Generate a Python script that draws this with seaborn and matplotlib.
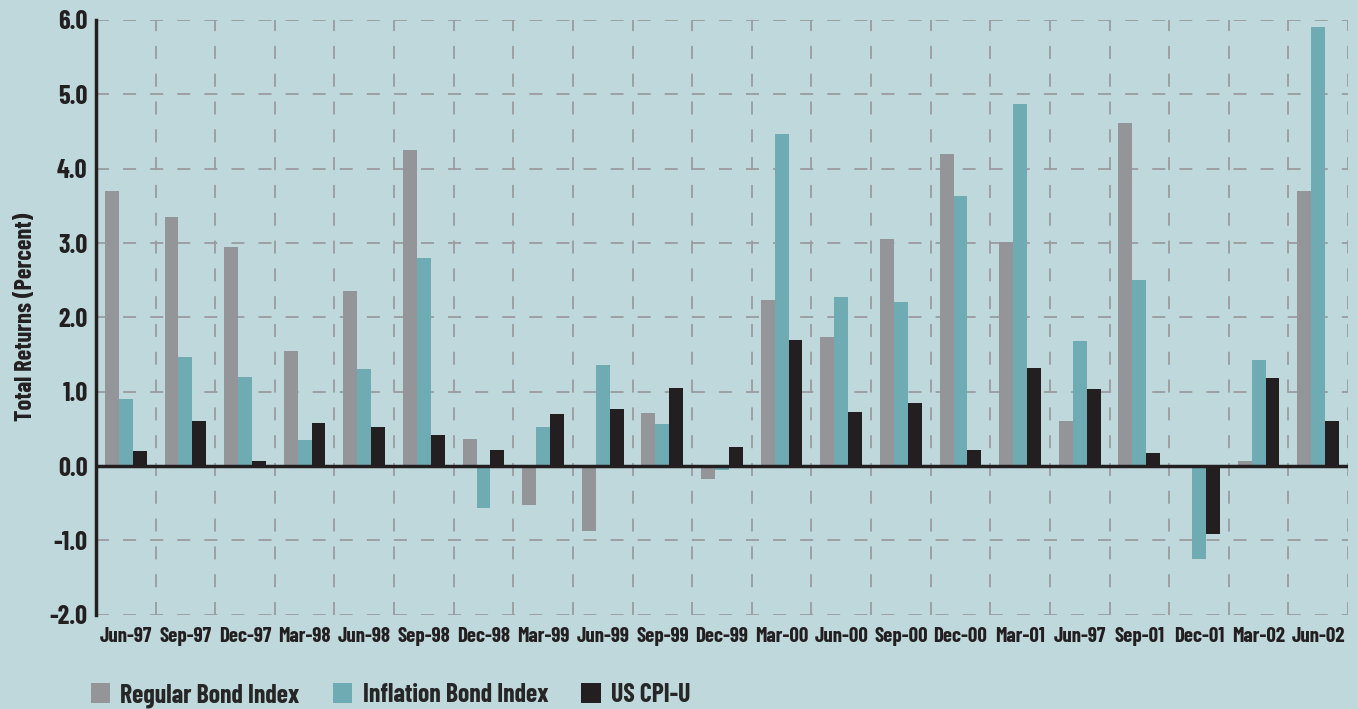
import matplotlib
matplotlib.use("Agg")
import matplotlib.pyplot as plt
import seaborn as sns
import pandas as pd
import numpy as np
from matplotlib.patches import Patch

periods = ["Jun-97", "Sep-97", "Dec-97", "Mar-98", "Jun-98", "Sep-98", "Dec-98",
           "Mar-99", "Jun-99", "Sep-99", "Dec-99", "Mar-00", "Jun-00", "Sep-00",
           "Dec-00", "Mar-01", "Jun-97", "Sep-01", "Dec-01", "Mar-02", "Jun-02"]
regular_bond = [3.70, 3.35, 2.95, 1.55, 2.35, 4.25, 0.37, -0.52, -0.88, 0.72, -0.17,
                2.23, 1.74, 3.05, 4.20, 3.02, 0.60, 4.62, 0.00, 0.07, 3.70]
inflation_bond = [0.90, 1.47, 1.20, 0.35, 1.30, 2.80, -0.57, 0.53, 1.36, 0.56, -0.06,
                  4.47, 2.28, 2.20, 3.63, 4.87, 1.68, 2.50, -1.25, 1.43, 5.90]
cpi_u = [0.20, 0.60, 0.07, 0.58, 0.52, 0.42, 0.22, 0.70, 0.77, 1.05, 0.25,
         1.70, 0.73, 0.85, 0.22, 1.32, 1.04, 0.18, -0.92, 1.18, 0.60]
series_names = ["Regular Bond Index", "Inflation Bond Index", "US CPI-U"]
colors = ["#939598", "#6eabb3", "#231f20"]
y_ticks = [-2.0, -1.0, 0.0, 1.0, 2.0, 3.0, 4.0, 5.0, 6.0]

BG = "#bed8dc"
FONT = ["Barlow Condensed", "Roboto Condensed", "IBM Plex Sans Condensed", "DejaVu Sans"]

sns.set_theme(style="white")
plt.rcParams["font.family"] = FONT
plt.rcParams["font.weight"] = "bold"

n = len(periods)
df = pd.DataFrame({
    "pos": np.tile(np.arange(n), 3),
    "value": regular_bond + inflation_bond + cpi_u,
    "series": np.repeat(series_names, n),
})

fig = plt.figure(figsize=(13.57, 7.09), dpi=100, facecolor=BG)
ax = fig.add_axes([0.0707, 0.133, 0.9227, 0.8388])
ax.set_facecolor(BG)

sns.barplot(data=df, x="pos", y="value", hue="series", hue_order=series_names,
            palette=colors, width=0.7, saturation=1, ax=ax, legend=False,
            errorbar=None, zorder=3, linewidth=0)

ax.set_xlim(-0.5, n - 0.5)
ax.set_ylim(-2.0, 6.0)
ax.set_yticks(y_ticks)
ax.set_yticklabels([f"{t:.1f}" for t in y_ticks], fontsize=19, fontweight="bold", color="#231f20")
ax.set_xticks(np.arange(n))
ax.set_xticklabels(periods, fontsize=15, fontweight="bold", color="#231f20")
ax.tick_params(axis="both", which="both", length=0)
ax.tick_params(axis="x", pad=9)
ax.tick_params(axis="y", pad=6)

ax.set_xlabel("")
ax.set_ylabel("Total Returns (Percent)", fontsize=17.5, fontweight="bold", color="#231f20", labelpad=9)

# grid
for y in y_ticks:
    if y != 0:
        ax.axhline(y, color="#9a9c9e", lw=1.3, dashes=(7.2, 7.8), zorder=1)
for x in list(np.arange(n - 1) + 0.5) + [n - 0.5]:
    ax.axvline(x, color="#9a9c9e", lw=1.3, dashes=(7.2, 8.2), zorder=1)

ax.axhline(0, color="#231f20", lw=2.5, zorder=4)

for s in ["top", "right", "bottom"]:
    ax.spines[s].set_visible(False)
ax.spines["left"].set_color("#231f20")
ax.spines["left"].set_linewidth(2.5)

handles = [Patch(facecolor=c, edgecolor="none") for c in colors]
fig.legend(handles, series_names, loc="lower left", bbox_to_anchor=(0.066, 0.0),
           ncol=3, frameon=False, handlelength=0.75, handleheight=0.8,
           handletextpad=0.4, columnspacing=1.3, borderpad=0.05, borderaxespad=0.0,
           prop={"family": FONT, "weight": "bold", "size": 18.5})

fig.savefig("out.png", dpi=100, facecolor=BG)
